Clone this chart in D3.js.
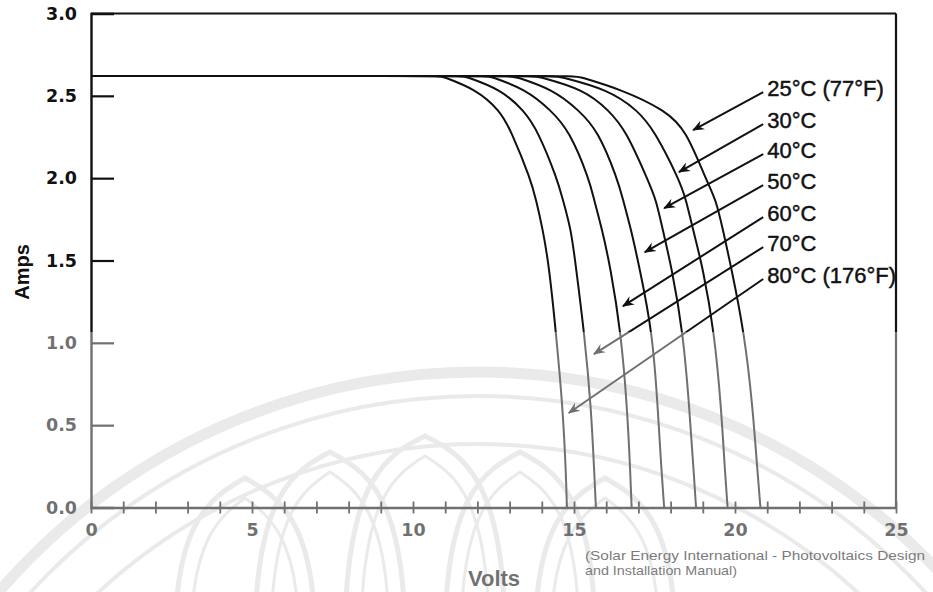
<!DOCTYPE html>
<html>
<head>
<meta charset="utf-8">
<script src="https://cdn.jsdelivr.net/npm/d3@7"></script>
<style>
  html, body { margin: 0; padding: 0; background: #fff; }
  svg { display: block; }
</style>
</head>
<body>
<svg id="chart" width="933" height="592"></svg>
<script>
// ---------------- DATA ----------------
const seriesLabels = ["25°C (77°F)", "30°C", "40°C", "50°C", "60°C", "70°C", "80°C (176°F)"];
// current levels (A) at which the voltage of each curve was read
const ampLevels = [2.62, 2.62, 2.54, 2.41, 2.29, 1.99, 1.87, 1.69, 1.46, 1.06, 0.61, 0.21, 0];
const volts25 = [0, 15.09, 16.46, 17.86, 18.48, 19.10, 19.41, 19.62, 19.88, 20.29, 20.55, 20.70, 20.79];
const volts30 = [0, 14.47, 16.06, 16.99, 17.49, 18.27, 18.48, 18.69, 19.00, 19.36, 19.57, 19.69, 19.77];
const volts40 = [0, 13.82, 15.31, 16.09, 16.61, 17.29, 17.55, 17.75, 18.03, 18.39, 18.58, 18.72, 18.79];
const volts50 = [0, 13.11, 14.35, 15.16, 15.74, 16.36, 16.52, 16.77, 17.03, 17.44, 17.60, 17.72, 17.80];
const volts60 = [0, 12.36, 13.51, 14.29, 14.85, 15.48, 15.62, 15.87, 16.13, 16.46, 16.65, 16.75, 16.79];
const volts70 = [0, 11.58, 12.73, 13.45, 13.87, 14.49, 14.65, 14.91, 15.06, 15.32, 15.53, 15.63, 15.68];
const volts80 = [0, 10.87, 11.96, 12.70, 13.04, 13.66, 13.82, 14.03, 14.23, 14.44, 14.65, 14.75, 14.78];
const seriesVolts = [volts25, volts30, volts40, volts50, volts60, volts70, volts80];

// annotation arrow tips (volts, amps) and label anchor currents
const arrowTipVolts = [18.70, 18.26, 17.80, 17.20, 16.52, 15.62, 14.84];
const arrowTipAmps  = [2.292, 2.037, 1.818, 1.551, 1.223, 0.932, 0.574];
const labelAmps     = [2.547, 2.353, 2.171, 1.982, 1.788, 1.606, 1.412];
const labelVolts = 21.0;

const yTicks = [0, 0.5, 1.0, 1.5, 2.0, 2.5, 3.0];
const xTicks = d3.range(0, 26, 1);
const xLabelEvery = 5;
const xTitle = "Volts";
const yTitle = "Amps";
const sourceLines = ["(Solar Energy International - Photovoltaics Design", "and Installation Manual)"];

// ---------------- DRAW ----------------
const svg = d3.select("#chart");
const W = 933, H = 592;
const x = d3.scaleLinear().domain([0, 25]).range([91, 896]);
const y = d3.scaleLinear().domain([0, 3]).range([507.5, 13.5]);
const ink = "#111";

// watermark (decorative, drawn beneath everything)
const wm = svg.append("g").attr("fill", "none").attr("stroke", "#dcdcdc");
const cx0 = 478, cy0 = 1004;
wm.append("circle").attr("cx", cx0).attr("cy", cy0).attr("r", 632).attr("stroke-width", 11);
wm.append("circle").attr("cx", cx0).attr("cy", cy0).attr("r", 608).attr("stroke-width", 4);
wm.append("circle").attr("cx", cx0).attr("cy", cy0).attr("r", 560).attr("stroke-width", 4);
const petals = [
  {c: 425, p: 436, w: 80}, {c: 330, p: 452, w: 75}, {c: 520, p: 452, w: 75},
  {c: 245, p: 478, w: 70}, {c: 605, p: 478, w: 70}
];
function petalPath(c, p, w, base) {
  return `M${c - w},${base} C${c - w},${p + 40} ${c - w * 0.45},${p + 18} ${c},${p} ` +
         `C${c + w * 0.45},${p + 18} ${c + w},${p + 40} ${c + w},${base}`;
}
petals.forEach(pt => {
  wm.append("path").attr("d", petalPath(pt.c, pt.p, pt.w, 640)).attr("stroke-width", 5);
  wm.append("path").attr("d", petalPath(pt.c, pt.p + 20, pt.w - 16, 640)).attr("stroke-width", 3);
});

// frame: top and right borders
svg.append("line").attr("x1", x(0)).attr("x2", x(25)).attr("y1", y(3)).attr("y2", y(3))
  .attr("stroke", ink).attr("stroke-width", 2.2);
svg.append("line").attr("x1", x(25)).attr("x2", x(25)).attr("y1", y(3)).attr("y2", y(0))
  .attr("stroke", ink).attr("stroke-width", 2.2);

// Y axis
const yAxis = d3.axisLeft(y).tickValues(yTicks).tickSize(-23).tickPadding(14)
  .tickFormat(d3.format(".1f"));
const gy = svg.append("g").attr("transform", `translate(${x(0)},0)`).call(yAxis);
gy.select(".domain").attr("stroke", ink).attr("stroke-width", 2.4);
gy.selectAll(".tick line").attr("stroke", ink).attr("stroke-width", 2.2)
  .attr("display", d => (d === 0 || d === 3) ? "none" : null);
gy.selectAll(".tick text").attr("fill", ink)
  .style("font-family", "'DejaVu Sans', sans-serif").style("font-weight", "bold").style("font-size", "17.5px");

// X axis
const xAxis = d3.axisBottom(x).tickValues(xTicks).tickSizeOuter(0)
  .tickFormat(d => d % xLabelEvery === 0 ? d : "");
const gx = svg.append("g").attr("transform", `translate(0,${y(0)})`).call(xAxis);
gx.select(".domain").attr("stroke", ink).attr("stroke-width", 2.4);
gx.selectAll(".tick line").attr("stroke", ink).attr("stroke-width", 1.8).attr("y1", -6).attr("y2", 6);
gx.selectAll(".tick text").attr("fill", ink).attr("y", 16)
  .style("font-family", "'DejaVu Sans', sans-serif").style("font-weight", "bold").style("font-size", "17.5px");

// curves: B-spline through the read-off points; the knee point is weighted twice
// so the curve leaves the flat short-circuit line where it was read
const line = d3.line().x(d => x(d[0])).y(d => y(d[1])).curve(d3.curveBasis);
const curves = svg.append("g").attr("fill", "none").attr("stroke", ink).attr("stroke-width", 2);
seriesVolts.forEach(vs => {
  const pts = vs.map((v, i) => [v, ampLevels[i]]);
  pts.splice(1, 0, pts[1]);
  curves.append("path").attr("d", line(pts));
});

// arrow marker
const defs = svg.append("defs");
defs.append("marker").attr("id", "arr").attr("viewBox", "0 -5 12 10")
  .attr("refX", 10).attr("refY", 0).attr("markerWidth", 13).attr("markerHeight", 11)
  .attr("markerUnits", "userSpaceOnUse").attr("orient", "auto")
  .append("path").attr("d", "M0,-4.5L11,0L0,4.5L3.5,0Z").attr("fill", ink);

// labels + arrows
const ann = svg.append("g");
seriesLabels.forEach((lab, i) => {
  const ly = y(labelAmps[i]);
  ann.append("line")
    .attr("x1", x(labelVolts) - 4).attr("y1", ly + 4)
    .attr("x2", x(arrowTipVolts[i])).attr("y2", y(arrowTipAmps[i]))
    .attr("stroke", ink).attr("stroke-width", 2).attr("marker-end", "url(#arr)");
  ann.append("text").attr("x", x(labelVolts)).attr("y", ly + 8)
    .attr("fill", ink).attr("stroke", ink).attr("stroke-width", 0.45)
    .style("font-family", "'Liberation Sans', Arial, sans-serif").style("font-size", "22px")
    .text(lab);
});

// axis titles
svg.append("text").attr("transform", `translate(29,272) rotate(-90)`).attr("text-anchor", "middle")
  .attr("fill", ink).style("font-family", "'Liberation Sans', Arial, sans-serif")
  .style("font-weight", "bold").style("font-size", "20px").text(yTitle);
svg.append("text").attr("x", 494).attr("y", 586).attr("text-anchor", "middle")
  .attr("fill", ink).style("font-family", "'Liberation Sans', Arial, sans-serif")
  .style("font-weight", "bold").style("font-size", "22px").text(xTitle);

// source note
svg.append("text").attr("x", 585).attr("y", 559.5).attr("fill", "#222")
  .attr("textLength", 340).attr("lengthAdjust", "spacingAndGlyphs")
  .style("font-family", "'Liberation Sans', Arial, sans-serif").style("font-size", "13px")
  .text(sourceLines[0]);
svg.append("text").attr("x", 585).attr("y", 574.5).attr("fill", "#222")
  .attr("textLength", 152).attr("lengthAdjust", "spacingAndGlyphs")
  .style("font-family", "'Liberation Sans', Arial, sans-serif").style("font-size", "13px")
  .text(sourceLines[1]);

// faded lower half of the scan
svg.append("rect").attr("x", 0).attr("y", 332).attr("width", W).attr("height", H - 332)
  .attr("fill", "#fff").attr("opacity", 0.4).attr("pointer-events", "none");
</script>
</body>
</html>
